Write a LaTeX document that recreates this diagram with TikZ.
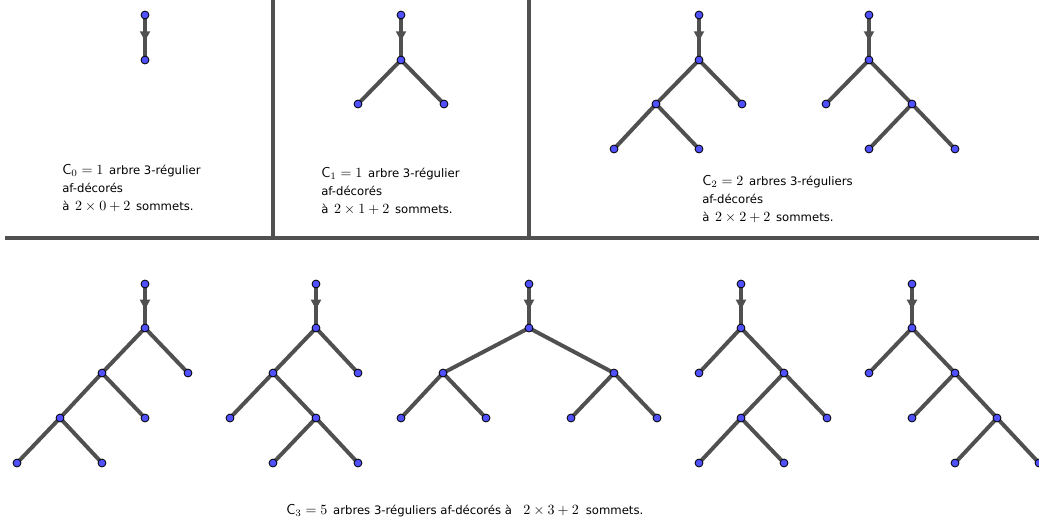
\documentclass[tikz,border=0pt]{standalone}
\usepackage{fontspec}
\setmainfont{DejaVu Sans}
\usetikzlibrary{arrows.meta,backgrounds,decorations.markings}

\definecolor{ptblue}{RGB}{80,80,255}
\definecolor{edgegray}{RGB}{80,80,80}
\newcommand{\gros}[1]{{\fontsize{10.2}{12.8}\selectfont$#1$}}

\begin{document}
\begin{tikzpicture}[x=0.025cm, y=-0.025cm,
  pt/.style={circle, draw=black, fill=ptblue, inner sep=0pt, minimum size=5.6pt, line width=0.6pt},
  edge/.style={draw=edgegray, line width=2.8pt},
  vect/.style={draw=edgegray, line width=3.4pt,
    postaction={decorate, decoration={markings,
      mark=at position 0.58 with {\arrow[edgegray]{Triangle[length=7pt, width=7pt]}}}}},
  legend/.style={anchor=west, inner sep=0pt, align=left, font=\fontsize{8.3}{12.8}\selectfont}
]
\useasboundingbox (0,0) rectangle (1039,526);

% Separators
\draw[edgegray, line width=2.8pt] (5,238)--(1039,238);
\draw[edgegray, line width=2.8pt] (273,0)--(273,238);
\draw[edgegray, line width=2.8pt] (529,0)--(529,238);

% Vertices (top row)
\foreach \n/\x/\y in {T0r/145/15, T0v/145/60,
    T1r/401/15, T1v/401/60, T1l/358/104, T1d/444/104,
    Ar/699/15, Av/699/60, Al/656/104, Ad/742/104, All/614/149, Ald/699/149,
    Br/869/15, Bv/869/60, Bl/826/104, Bd/912/104, Bdl/869/149, Bdd/955/149}
  \node[pt] (\n) at (\x,\y) {};

% Vertices (bottom row)
\foreach \n/\x/\y in {Cr/145/284, Cv/145/328, Cl/102/373, Cd/188/373,
    Cll/60/418, Cld/145/418, Clll/17/463, Clld/102/463,
    Dr/316/284, Dv/316/328, Dl/273/373, Dd/358/373,
    Dll/230/418, Dld/316/418, Dldl/273/463, Dldd/358/463,
    Er/529/284, Ev/529/328, El/443/373, Ed/614/373,
    Ell/401/418, Eld/486/418, Edl/571/418, Edd/657/418,
    Fr/741/284, Fv/741/328, Fl/699/373, Fd/784/373,
    Fdl/741/418, Fdd/827/418, Fdll/699/463, Fdld/784/463,
    Gr/912/284, Gv/912/328, Gl/869/373, Gd/955/373,
    Gdl/912/418, Gdd/997/418, Gddl/955/463, Gddd/1039/463}
  \node[pt] (\n) at (\x,\y) {};

\begin{scope}[on background layer]
% Root arrows
\foreach \a/\b in {T0r/T0v, T1r/T1v, Ar/Av, Br/Bv, Cr/Cv, Dr/Dv, Er/Ev, Fr/Fv, Gr/Gv}
  \draw[vect] (\a.center) -- (\b.center);

% Edges
\foreach \a/\b in {T1v/T1l, T1v/T1d,
    Av/Al, Av/Ad, Al/All, Al/Ald,
    Bv/Bl, Bv/Bd, Bd/Bdl, Bd/Bdd,
    Cv/Cl, Cv/Cd, Cl/Cll, Cl/Cld, Cll/Clll, Cll/Clld,
    Dv/Dl, Dv/Dd, Dl/Dll, Dl/Dld, Dld/Dldl, Dld/Dldd,
    Ev/El, Ev/Ed, El/Ell, El/Eld, Ed/Edl, Ed/Edd,
    Fv/Fl, Fv/Fd, Fd/Fdl, Fd/Fdd, Fdl/Fdll, Fdl/Fdld,
    Gv/Gl, Gv/Gd, Gd/Gdl, Gd/Gdd, Gdd/Gddl, Gdd/Gddd}
  \draw[edge] (\a.center) -- (\b.center);
\end{scope}

% Legends
\node[legend] (L0) at (62,188) {\gros{\mathsf{C}_0=1}\hspace{4pt}arbre 3-régulier\\ af-décorés\\ à\hspace{4pt}\gros{2\times 0+2}\hspace{4pt}sommets.};
\node[legend] (L1) at (321,191) {\gros{\mathsf{C}_1=1}\hspace{4pt}arbre 3-régulier\\ af-décorés\\ à\hspace{4pt}\gros{2\times 1+2}\hspace{4pt}sommets.};
\node[legend] (L2) at (702,199) {\gros{\mathsf{C}_2=2}\hspace{4pt}arbres 3-réguliers\\ af-décorés\\ à\hspace{4pt}\gros{2\times 2+2}\hspace{4pt}sommets.};
\node[legend] (L3) at (286,511) {\gros{\mathsf{C}_3=5}\hspace{4pt}arbres 3-réguliers af-décorés à\hspace{8pt}\gros{2\times 3+2}\hspace{5pt}sommets.};

\end{tikzpicture}
\end{document}
